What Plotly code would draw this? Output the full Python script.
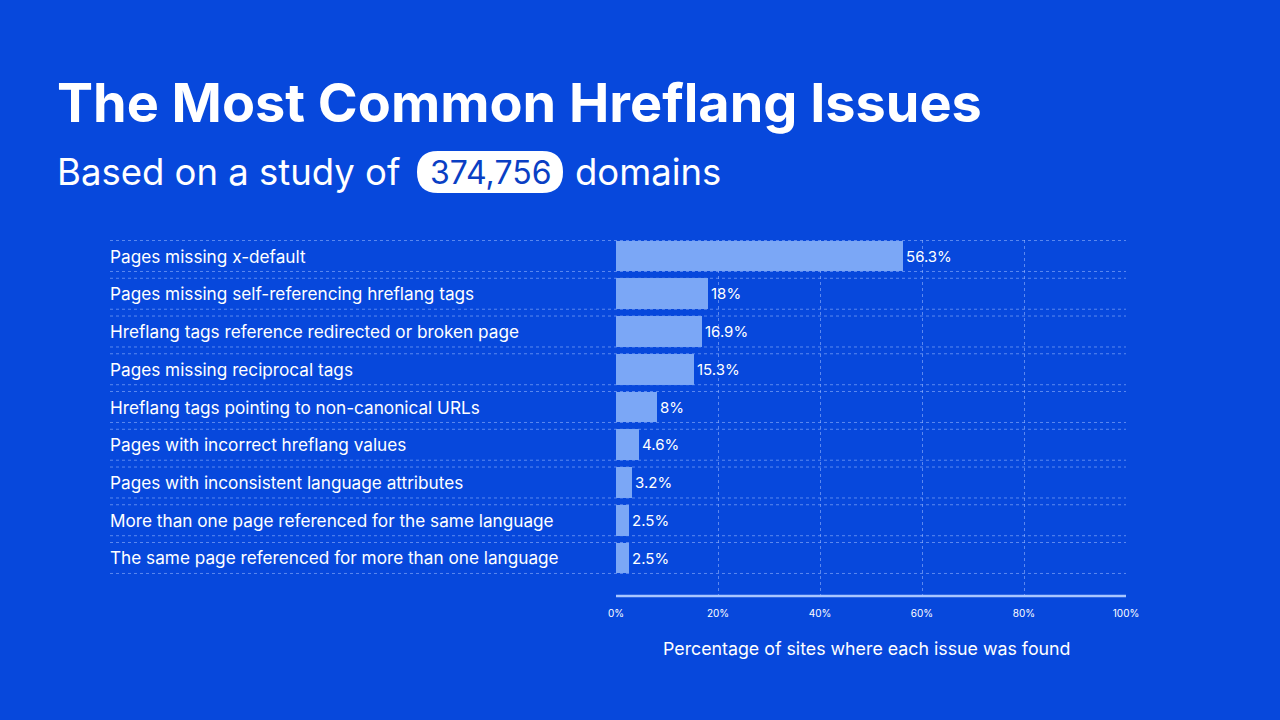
import plotly.graph_objects as go

categories = [
    "Pages missing x-default",
    "Pages missing self-referencing hreflang tags",
    "Hreflang tags reference redirected or broken page",
    "Pages missing reciprocal tags",
    "Hreflang tags pointing to non-canonical URLs",
    "Pages with incorrect hreflang values",
    "Pages with inconsistent language attributes",
    "More than one page referenced for the same language",
    "The same page referenced for more than one language",
]
values = [56.3, 18, 16.9, 15.3, 8, 4.6, 3.2, 2.5, 2.5]
value_labels = ["56.3%", "18%", "16.9%", "15.3%", "8%", "4.6%", "3.2%", "2.5%", "2.5%"]
tick_vals = [0, 20, 40, 60, 80, 100]
tick_text = ["0%", "20%", "40%", "60%", "80%", "100%"]

BG = "#0748DC"
BAR = "#7BA7F6"
GRID = "rgba(160,190,255,0.55)"
FONT = "Inter"

W, H = 1280, 720
L, R, T, B = 616, 1126, 240, 596


def px(x):
    return (x - L) / (R - L)


def py(y):
    return (B - y) / (B - T)


pos = list(range(len(categories)))
bw = 0.82

fig = go.Figure()
fig.add_trace(go.Bar(
    y=pos, x=values, orientation="h",
    marker=dict(color=BAR, line=dict(width=0)),
    width=bw,
    text=value_labels, textposition="outside",
    textfont=dict(color="white", size=15, family=FONT),
    cliponaxis=False,
    hoverinfo="skip",
))

shapes = []
annotations = []
for i, c in enumerate(categories):
    annotations.append(dict(
        x=px(108), y=i, xref="paper", yref="y", text=c, showarrow=False,
        xanchor="left", yanchor="middle",
        font=dict(color="white", size=17.2, family=FONT),
    ))
    for yy in (i - bw / 2, i + bw / 2):
        shapes.append(dict(
            type="line", xref="paper", yref="y", x0=px(110), x1=1, y0=yy, y1=yy,
            line=dict(color=GRID, width=1, dash="dot"), layer="below",
        ))

# axis baseline
shapes.append(dict(type="line", xref="paper", yref="paper", x0=0, x1=1, y0=0, y1=0,
                   line=dict(color="#A9C6FF", width=2.5)))

# title texts
annotations.append(dict(
    x=px(55), y=py(102), xref="paper", yref="paper", showarrow=False,
    text="<b>The Most Common Hreflang Issues</b>", xanchor="left", yanchor="middle",
    font=dict(color="white", size=54, family=FONT),
))
annotations.append(dict(
    x=px(55), y=py(172), xref="paper", yref="paper", showarrow=False,
    text="Based on a study of", xanchor="left", yanchor="middle",
    font=dict(color="white", size=36.5, family=FONT),
))
# pill
pw, ph, r = 146, 42, 21
cx, cy = 490, 172
path = (f"M {-pw/2 + r},{-ph/2} L {pw/2 - r},{-ph/2} "
        f"Q {pw/2},{-ph/2} {pw/2},0 Q {pw/2},{ph/2} {pw/2 - r},{ph/2} "
        f"L {-pw/2 + r},{ph/2} Q {-pw/2},{ph/2} {-pw/2},0 Q {-pw/2},{-ph/2} {-pw/2 + r},{-ph/2} Z")
shapes.append(dict(type="path", xref="paper", yref="paper", xsizemode="pixel", ysizemode="pixel",
                   xanchor=px(cx), yanchor=py(cy), path=path,
                   fillcolor="white", line=dict(width=0), layer="above"))
annotations.append(dict(
    x=px(cx), y=py(cy), xref="paper", yref="paper", showarrow=False,
    text="374,756", xanchor="center", yanchor="middle",
    font=dict(color="#0A3FC4", size=32, family=FONT),
))
annotations.append(dict(
    x=px(573), y=py(172), xref="paper", yref="paper", showarrow=False,
    text="domains", xanchor="left", yanchor="middle",
    font=dict(color="white", size=36.5, family=FONT),
))
annotations.append(dict(
    x=px(866), y=py(648), xref="paper", yref="paper", showarrow=False,
    text="Percentage of sites where each issue was found", xanchor="center", yanchor="middle",
    font=dict(color="white", size=17.8, family=FONT),
))

fig.update_layout(
    width=W, height=H,
    margin=dict(l=L, r=W - R, t=T, b=H - B, pad=0),
    paper_bgcolor=BG, plot_bgcolor=BG,
    showlegend=False,
    shapes=shapes, annotations=annotations,
    bargap=0,
    xaxis=dict(range=[0, 100], tickvals=tick_vals, ticktext=tick_text,
               showgrid=True, gridcolor=GRID, griddash="dot", gridwidth=1,
               zeroline=False, showline=False, ticks="",
               tickfont=dict(color="white", size=10, family=FONT), ticklabelstandoff=10),
    yaxis=dict(range=[len(categories) - 1 + 1.007, -0.424], showticklabels=False,
               showgrid=False, zeroline=False, showline=False, ticks=""),
)

fig.write_html("out.html")
